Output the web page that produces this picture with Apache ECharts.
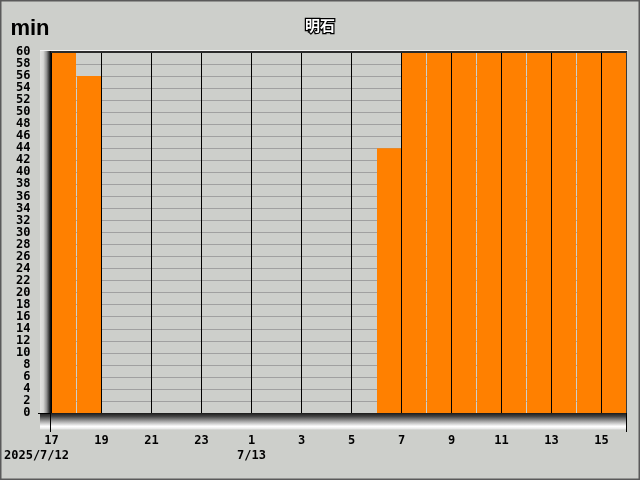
<!DOCTYPE html>
<html>
<head>
<meta charset="utf-8">
<script src="https://cdn.jsdelivr.net/npm/echarts@6/dist/echarts.min.js"></script>
<style>html,body{margin:0;padding:0;background:#cdcfcb;}#c{width:640px;height:480px;}</style>
</head>
<body>
<div id="c"></div>
<script>
const hours = ['17','18','19','20','21','22','23','0','1','2','3','4','5','6','7','8','9','10','11','12','13','14','15'];
const values = [60,56,0,0,0,0,0,0,0,0,0,0,0,44,60,60,60,60,60,60,60,60,60];
const dateLabels = [['17','2025/7/12'],['1','7/13']];
const title = '明石';
const unit = 'min';

const chart = echarts.init(document.getElementById('c'));
const L = 51, T = 52, R = 626, B = 413;
const mono = '"DejaVu Sans Mono", monospace';

function hourLabel(v) {
  if (v % 2 !== 0 || v >= hours.length) return '';
  const h = hours[v];
  const d = dateLabels.find(x => x[0] === h && v === hours.indexOf(h));
  if (d) {
    return '{h|' + h + '}\n{' + (v === 0 ? 'd0' : 'd') + '|' + d[1] + '}';
  }
  return '{h|' + h + '}';
}

chart.setOption({
  backgroundColor: '#cdcfcb',
  animation: false,
  title: {
    text: title, left: 'center', top: 13,
    textStyle: { color: '#ffffff', fontSize: 15, fontWeight: 'bold', fontFamily: '"Noto Sans CJK JP"', textBorderColor: '#000', textBorderWidth: 2.5 }
  },
  grid: { left: L + 0.5, right: 640 - R - 0.5, top: T, bottom: 480 - B },
  xAxis: [
    { type: 'category', data: hours, show: false, boundaryGap: true },
    {
      type: 'value', min: 0, max: hours.length, interval: 1, position: 'bottom', z: 5,
      axisLine: { show: false }, axisTick: { show: false },
      splitLine: { show: true, lineStyle: { color: ['#000000', 'rgba(0,0,0,0)'], width: 1 } },
      axisLabel: {
        margin: 20, lineHeight: 15, formatter: hourLabel, showMaxLabel: false,
        rich: {
          h: { fontFamily: mono, fontWeight: 'bold', fontSize: 12, color: '#000', lineHeight: 15 },
          d: { fontFamily: mono, fontWeight: 'bold', fontSize: 12, color: '#000', lineHeight: 15 },
          d0: { fontFamily: mono, fontWeight: 'bold', fontSize: 12, color: '#000', lineHeight: 15, padding: [0, 30, 0, 0] }
        }
      }
    }
  ],
  yAxis: {
    type: 'value', min: 0, max: 60, interval: 2,
    name: unit, nameLocation: 'end', nameGap: 12,
    nameTextStyle: { fontFamily: '"Liberation Sans", Arial', fontWeight: 'bold', fontSize: 22, color: '#000', align: 'right', verticalAlign: 'bottom', padding: [0, 2, 0, 0] },
    axisLine: { show: false }, axisTick: { show: false },
    axisLabel: { margin: 21, fontFamily: mono, fontWeight: 'bold', fontSize: 12, color: '#000' },
    splitLine: { show: true, lineStyle: { color: '#a0a0a0', width: 1 } }
  },
  series: [{
    type: 'bar', xAxisIndex: 0, data: values, barWidth: 24, z: 2,
    itemStyle: { color: '#ff8000' }
  }],
  graphic: [
    { type: 'rect', z: 100, shape: { x: 40, y: 50, width: 11, height: 366 },
      style: { fill: new echarts.graphic.LinearGradient(0, 0, 1, 0, [
        { offset: 0, color: '#e2e2e0' }, { offset: 0.3, color: '#d6d6d4' }, { offset: 0.6, color: '#909090' }, { offset: 0.85, color: '#333333' }, { offset: 1, color: '#000' }]) } },
    { type: 'rect', z: 100, shape: { x: 40, y: B, width: R - 40 + 1, height: 17 },
      style: { fill: new echarts.graphic.LinearGradient(0, 0, 0, 1, [
        { offset: 0, color: '#1a1a1a' }, { offset: 0.2, color: '#444444' }, { offset: 0.5, color: '#a8a8a8' }, { offset: 0.78, color: '#ffffff' }, { offset: 0.9, color: '#f0f0f0' }, { offset: 1, color: '#cdcfcb' }]) } },
    { type: 'line', z: 101, shape: { x1: 40, y1: 50.5, x2: R + 2, y2: 50.5 }, style: { stroke: '#f2f2f2', lineWidth: 1 } },
    { type: 'line', z: 101, shape: { x1: L, y1: 52, x2: R + 1, y2: 52 }, style: { stroke: '#2a2a2a', lineWidth: 2 } },
    { type: 'line', z: 101, shape: { x1: R + 0.5, y1: 52, x2: R + 0.5, y2: B + 2 }, style: { stroke: '#3a3a3a', lineWidth: 1 } },
    { type: 'line', z: 102, shape: { x1: 38, y1: B + 0.5, x2: L, y2: B + 0.5 }, style: { stroke: '#000', lineWidth: 1 } },
    { type: 'line', z: 102, shape: { x1: L - 0.5, y1: B, x2: L - 0.5, y2: 432 }, style: { stroke: '#000', lineWidth: 1 } },
    { type: 'line', z: 102, shape: { x1: R + 0.5, y1: B, x2: R + 0.5, y2: 432 }, style: { stroke: '#000', lineWidth: 1 } },
    { type: 'rect', z: 103, shape: { x: 0.5, y: 0.5, width: 639, height: 479 }, style: { fill: 'none', stroke: '#5a5a5a', lineWidth: 2 } }
  ]
});
</script>
</body>
</html>
